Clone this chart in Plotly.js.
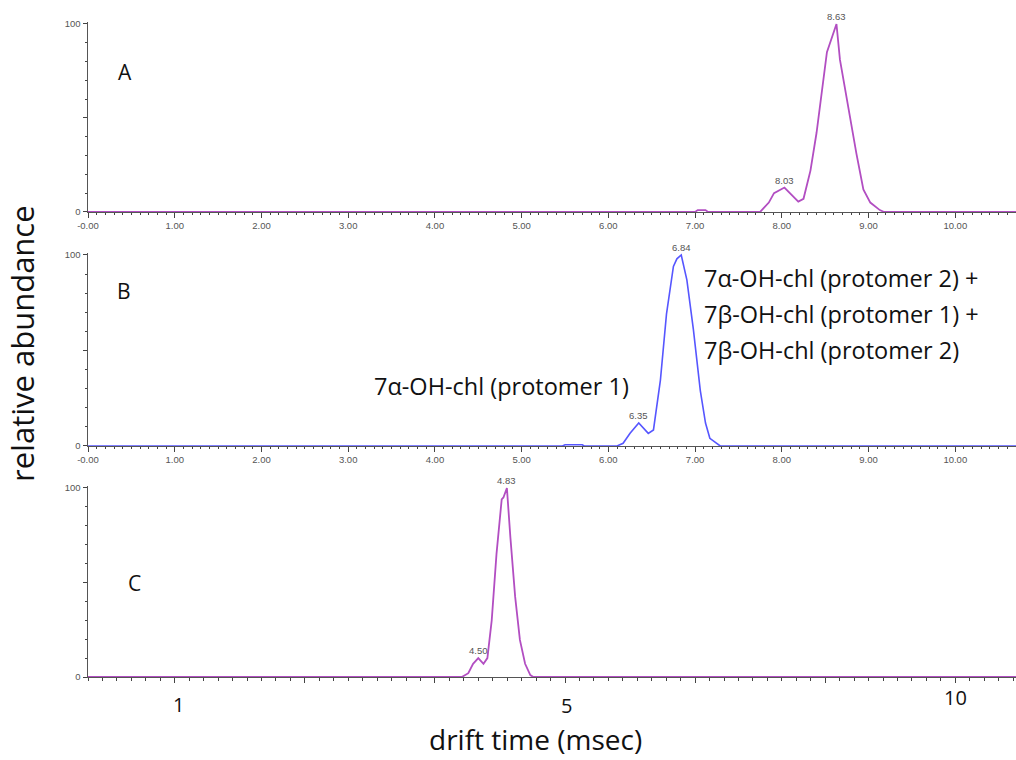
<!DOCTYPE html>
<html><head><meta charset="utf-8">
<script src="https://cdn.plot.ly/plotly-3.0.1.min.js"></script>
<style>html,body{margin:0;padding:0;background:#fff}#chart{width:1016px;height:760px}</style>
</head><body><div id="chart"></div>
<script>
// Panel A
const A_t = [0, 7.0, 7.03, 7.12, 7.15, 7.75, 7.79, 7.85, 7.91, 8.03, 8.19, 8.25, 8.33, 8.40, 8.52, 8.63, 8.67, 8.77, 8.86, 8.94, 9.02, 9.13, 9.18, 10.7];
const A_v = [0, 0, 1, 1, 0, 0, 2, 5, 10, 13, 5.5, 7, 22, 42, 85, 100, 81, 54, 31, 12, 5, 1, 0, 0];
const A_peakT = [8.03, 8.63];
const A_peakV = [13, 100];
// Panel B
const B_t = [0, 5.47, 5.5, 5.7, 5.72, 6.10, 6.17, 6.25, 6.35, 6.46, 6.52, 6.60, 6.67, 6.75, 6.79, 6.84, 6.905, 6.98, 7.06, 7.12, 7.17, 7.25, 7.29, 10.7];
const B_v = [0, 0, 0.6, 0.6, 0, 0, 1.4, 6.6, 12, 6.6, 8.4, 34.5, 69, 94, 98, 100, 87, 61, 29, 12, 4, 1.4, 0, 0];
const B_peakT = [6.35, 6.84];
const B_peakV = [12, 100];
// Panel C
const C_t = [0, 4.31, 4.385, 4.44, 4.50, 4.56, 4.605, 4.655, 4.71, 4.77, 4.79, 4.83, 4.87, 4.925, 4.98, 5.04, 5.10, 5.135, 10.7];
const C_v = [0, 0, 2, 7, 10, 7, 10, 30, 65, 94, 95, 100, 74, 42.5, 19.6, 7, 1, 0, 0];
const C_peakT = [4.50, 4.83];
const C_peakV = [10, 100];
// Tick labels
const xTickVals = [0,1,2,3,4,5,6,7,8,9,10];
const xTickText = ['-0.00','1.00','2.00','3.00','4.00','5.00','6.00','7.00','8.00','9.00','10.00'];
const yTickVals = [0,50,100];
const yTickText = ['0','','100'];
const cLabelText = ['1','5','10'];
const cLabelPos = [1.04, 5.52, 10.0];
const panelLetters = ['A','B','C'];

const purple = '#b24ec2';
const blue = '#5656ff';
const BIG = 'Open Sans, Lato, sans-serif';
const SMALL = 'Arial, Liberation Sans, sans-serif';
const L = 88, W = 928, H = 760;
const px = v => (v - L) / W;
const py = v => 1 - v / H;

const traces = [
  {x:A_t, y:A_v, xaxis:'x', yaxis:'y', mode:'lines', line:{color:purple, width:1.8}, hoverinfo:'skip'},
  {x:B_t, y:B_v, xaxis:'x2', yaxis:'y2', mode:'lines', line:{color:blue, width:1.6}, hoverinfo:'skip'},
  {x:C_t, y:C_v, xaxis:'x3', yaxis:'y3', mode:'lines', line:{color:purple, width:1.8}, hoverinfo:'skip'}
];

function xax(anchor, labels){
  return {
    anchor: anchor, domain:[0,1], range:[0,10.7], showgrid:false, zeroline:false,
    showline:true, linecolor:'#555', linewidth:1,
    tickmode:'array', tickvals: labels ? xTickVals : [1, 2.5, 4, 5.5, 7, 8.5, 10], ticktext: labels ? xTickText : ['','','','','','',''],
    ticks:'outside', ticklen:5, tickwidth:1, tickcolor:'#444',
    tickfont:{family:SMALL, size:9.5, color:'#555'},
    minor:{tickmode:'linear', tick0: labels ? 0 : 1, dtick: labels ? 0.1 : 1.5/9, ticks:'outside', ticklen:2.5, tickcolor:'#444', showgrid:false},
    fixedrange:true
  };
}
function yax(anchor, domain){
  return {
    anchor: anchor, domain: domain, range:[0,101], showgrid:false, zeroline:false,
    showline:true, linecolor:'#555', linewidth:1.5,
    tickmode:'array', tickvals:yTickVals, ticktext:yTickText,
    ticks:'outside', ticklen:4, tickwidth:1, tickcolor:'#444',
    tickfont:{family:SMALL, size:9.5, color:'#555'},
    minor:{tickmode:'linear', tick0:0, dtick:10, ticks:'outside', ticklen:2, tickcolor:'#444', showgrid:false},
    fixedrange:true
  };
}

const annotations = [];
function peakAnn(ts, vs, xr, yr){
  ts.forEach((t,i)=>{
    annotations.push({x:t, y:vs[i], xref:xr, yref:yr, text:t.toFixed(2), showarrow:false,
      yanchor:'bottom', yshift:0, font:{family:SMALL, size:9.5, color:'#555'}});
  });
}
peakAnn(A_peakT, A_peakV, 'x', 'y');
peakAnn(B_peakT, B_peakV, 'x2', 'y2');
peakAnn(C_peakT, C_peakV, 'x3', 'y3');

// panel letters
const letterPos = [[125, 72],[124, 291],[134, 583]];
panelLetters.forEach((s,i)=>{
  annotations.push({x:px(letterPos[i][0]), y:py(letterPos[i][1]), xref:'paper', yref:'paper', text:s, showarrow:false,
    xanchor:'center', yanchor:'middle', font:{family:BIG, size:21, color:'#111'}});
});

// compound labels
annotations.push({x:px(372), y:py(386), xref:'paper', yref:'paper', text:'7α-OH-chl (protomer 1)', showarrow:false,
  xanchor:'left', yanchor:'middle', font:{family:BIG, size:23.5, color:'#111'}});
const rightLines = ['7α-OH-chl (protomer 2) +','7β-OH-chl (protomer 1) +','7β-OH-chl (protomer 2)'];
rightLines.forEach((s,i)=>{
  annotations.push({x:px(702), y:py(278+36*i), xref:'paper', yref:'paper', text:s, showarrow:false,
    xanchor:'left', yanchor:'middle', font:{family:BIG, size:23.5, color:'#111'}});
});

// panel C big tick labels
const cLabelY = [704, 705, 697];
cLabelText.forEach((s,i)=>{
  annotations.push({x:cLabelPos[i], y:py(cLabelY[i]), xref:'x3', yref:'paper', text:s, showarrow:false,
    xanchor:'center', yanchor:'middle', font:{family:BIG, size:20, color:'#111'}});
});

// axis titles
annotations.push({x:px(535), y:py(739), xref:'paper', yref:'paper', text:'drift time (msec)', showarrow:false,
  xanchor:'center', yanchor:'middle', borderpad:0, font:{family:BIG, size:28, color:'#111'}});
annotations.push({x:px(22), y:py(344), xref:'paper', yref:'paper', text:'relative abundance', showarrow:false, textangle:-90,
  xanchor:'center', yanchor:'middle', font:{family:BIG, size:31, color:'#111'}});

const layout = {
  width:1016, height:760, margin:{l:88, r:0, t:0, b:0},
  paper_bgcolor:'#fff', plot_bgcolor:'#fff', showlegend:false,
  xaxis: xax('y', true), xaxis2: xax('y2', true), xaxis3: xax('y3', false),
  yaxis: yax('x', [0.7211, 0.9709]), yaxis2: yax('x2', [0.4132, 0.6670]), yaxis3: yax('x3', [0.1092, 0.3604]),
  annotations: annotations
};
Plotly.newPlot('chart', traces, layout, {displayModeBar:false, staticPlot:true});
</script></body></html>
